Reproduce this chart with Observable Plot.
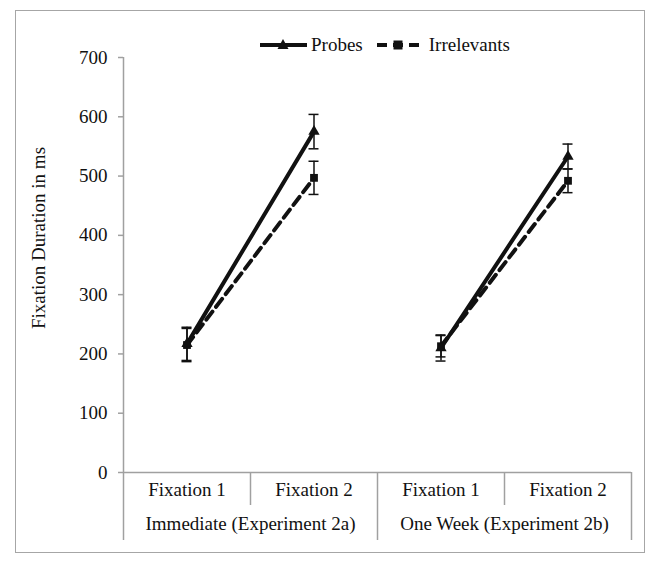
<!DOCTYPE html>
<html><head><meta charset="utf-8">
<script src="https://cdn.jsdelivr.net/npm/d3@7"></script>
<script src="https://cdn.jsdelivr.net/npm/@observablehq/plot@0.6"></script>
<style>
body{margin:0;background:#fff;}
#wrap{position:relative;width:646px;height:563px;font-family:"Liberation Serif","Times New Roman",serif;}
#frame{position:absolute;left:15px;top:10px;width:630px;height:543px;border:1.5px solid #a6a6a6;box-sizing:border-box;pointer-events:none;}
#chart{position:absolute;left:0;top:0;}
#legend{position:absolute;left:260px;top:32px;display:flex;align-items:center;font-size:19px;color:#111;line-height:26px;}
#legend .item{display:flex;align-items:center;}
#legend svg{display:block;}
</style></head>
<body><div id="wrap"><div id="frame"></div><div id="chart"></div><div id="legend"></div></div>
<script>
const conditions = ["Fixation 1", "Fixation 2", "Fixation 1", "Fixation 2"];
const groups = ["Immediate (Experiment 2a)", "One Week (Experiment 2b)"];
const seriesNames = ["Probes", "Irrelevants"];
const probes = [217, 575, 210, 533];
const probesErr = [28, 29, 22, 21];
const irrelevants = [215, 497, 213, 492];
const irrelevantsErr = [28, 28, 18, 20];
const yTicks = [0, 100, 200, 300, 400, 500, 600, 700];
const yLabel = "Fixation Duration in ms";

const ink = "#111";
const axisGray = "#a0a0a0";

function rowsFor(name, vals, errs) {
  return vals.map((v, i) => ({
    series: name, group: groups[Math.floor(i / 2)], condition: conditions[i],
    pos: i + 0.5, value: v, err: errs[i]
  }));
}
const probeRows = rowsFor(seriesNames[0], probes, probesErr);
const irrRows = rowsFor(seriesNames[1], irrelevants, irrelevantsErr);
const allRows = irrRows.concat(probeRows);
const condRows = conditions.map((c, i) => ({condition: c, pos: i + 0.5}));
const groupRows = groups.map((g, i) => ({group: g, pos: i * 2 + 1}));

const chart = Plot.plot({
  width: 646, height: 563,
  marginLeft: 123, marginRight: 15, marginTop: 57, marginBottom: 91,
  style: {fontFamily: "'Liberation Serif', 'Times New Roman', serif", fontSize: "19px", color: ink, background: "transparent", overflow: "visible"},
  x: {domain: [0, 4], axis: null},
  y: {domain: [0, 700], axis: null},
  marks: [
    Plot.ruleX([0], {stroke: axisGray, strokeWidth: 1.5}),
    Plot.ruleY([0], {stroke: axisGray, strokeWidth: 1.5}),
    Plot.axisY({ticks: yTicks, tickSize: 5, tickPadding: 11, stroke: axisGray, strokeWidth: 1.5, fill: ink, label: null, tickFormat: d => String(d)}),
    Plot.axisX({ticks: [0, 2, 4], tickSize: 68, stroke: axisGray, strokeWidth: 1.5, fill: "none", label: null}),
    Plot.axisX({ticks: [1, 3], tickSize: 33, stroke: axisGray, strokeWidth: 1.5, fill: "none", label: null}),
    Plot.text(condRows, {x: "pos", text: "condition", frameAnchor: "bottom", dy: 23, fill: ink}),
    Plot.text(groupRows, {x: "pos", text: "group", frameAnchor: "bottom", dy: 57, fill: ink}),
    Plot.text([yLabel], {text: d => d, frameAnchor: "left", textAnchor: "middle", rotate: -90, dx: -85, dy: -27, fill: ink}),
    Plot.line(irrRows, {x: "pos", y: "value", z: "group", stroke: ink, strokeWidth: 4, strokeDasharray: "10,6"}),
    Plot.line(probeRows, {x: "pos", y: "value", z: "group", stroke: ink, strokeWidth: 4}),
    Plot.ruleX(allRows, {x: "pos", y1: d => d.value - d.err, y2: d => d.value + d.err, stroke: ink, strokeWidth: 1.5}),
    Plot.ruleY(allRows, {y: d => d.value - d.err, x1: "pos", x2: "pos", insetLeft: -5, insetRight: -5, stroke: ink, strokeWidth: 1.5}),
    Plot.ruleY(allRows, {y: d => d.value + d.err, x1: "pos", x2: "pos", insetLeft: -5, insetRight: -5, stroke: ink, strokeWidth: 1.5}),
    Plot.dot(irrRows, {x: "pos", y: "value", symbol: "square", r: 4.4, fill: ink, stroke: "none"}),
    Plot.dot(probeRows, {x: "pos", y: "value", symbol: "triangle", r: 4.2, fill: ink, stroke: "none"})
  ]
});
document.getElementById("chart").appendChild(chart);

// Legend
const legend = document.getElementById("legend");
legend.innerHTML =
  `<div class="item"><svg width="47" height="14"><line x1="0" x2="47" y1="7" y2="7" stroke="${ink}" stroke-width="4"/><polygon points="17.5,11 28.5,11 23,1" fill="${ink}"/></svg><span style="margin-left:4px">${seriesNames[0]}</span></div>` +
  `<div class="item" style="margin-left:14px"><svg width="42" height="14"><line x1="0" x2="42" y1="7" y2="7" stroke="${ink}" stroke-width="4" stroke-dasharray="10,6"/><rect x="16.5" y="2.5" width="9" height="9" fill="${ink}"/></svg><span style="margin-left:10px">${seriesNames[1]}</span></div>`;
</script>
</body></html>
